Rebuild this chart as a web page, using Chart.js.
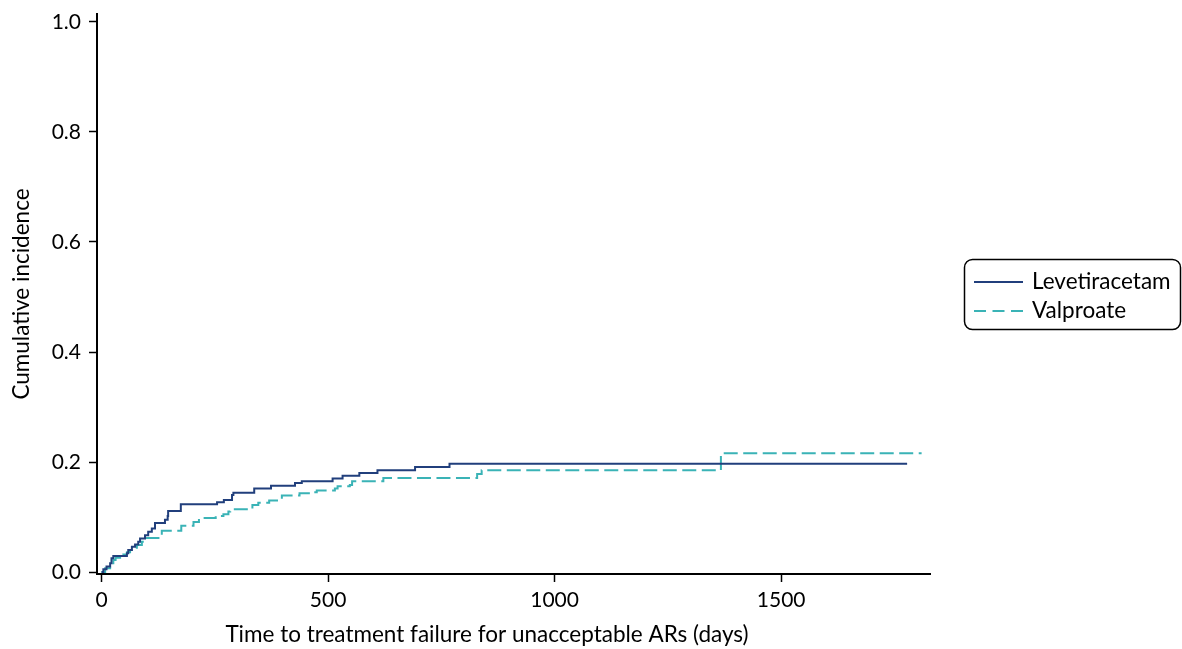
<!DOCTYPE html>
<html>
<head>
<meta charset="utf-8">
<script src="https://cdn.jsdelivr.net/npm/chart.js@4.4.1/dist/chart.umd.min.js"></script>
<style>
  html, body { margin: 0; padding: 0; background: #ffffff; }
  #wrap { width: 1182px; height: 649px; }
</style>
</head>
<body>
<div id="wrap"><canvas id="c" width="1182" height="649"></canvas></div>
<script>
// ---- data (days, cumulative incidence) ----
const seriesNames = ['Levetiracetam', 'Valproate'];
const levDays = [0, 4, 11, 19, 22, 26, 56, 59, 67, 74, 81, 85, 96, 103, 111, 118, 140, 146, 147, 175, 255, 270, 288, 291, 337, 374, 427, 442, 510, 532, 569, 609, 692, 768, 1778];
const levInc  = [0, 0.005, 0.010, 0.016, 0.025, 0.029, 0.034, 0.040, 0.046, 0.050, 0.055, 0.061, 0.067, 0.073, 0.079, 0.089, 0.095, 0.102, 0.111, 0.123, 0.127, 0.131, 0.140, 0.144, 0.152, 0.157, 0.162, 0.165, 0.170, 0.175, 0.180, 0.185, 0.191, 0.197, 0.197];
const valDays = [0, 8, 19, 26, 31, 41, 48, 56, 63, 70, 78, 89, 96, 133, 176, 203, 215, 252, 269, 280, 284, 333, 346, 370, 398, 437, 462, 475, 515, 521, 548, 553, 622, 829, 839, 1367, 1810];
const valInc  = [0, 0.007, 0.013, 0.022, 0.026, 0.028, 0.032, 0.036, 0.040, 0.044, 0.049, 0.055, 0.062, 0.075, 0.084, 0.091, 0.098, 0.102, 0.105, 0.110, 0.114, 0.122, 0.126, 0.130, 0.139, 0.143, 0.145, 0.148, 0.152, 0.156, 0.158, 0.165, 0.171, 0.178, 0.185, 0.216, 0.216];
const xTicks = [0, 500, 1000, 1500];
const yTicks = [0, 0.2, 0.4, 0.6, 0.8, 1.0];
const xTitle = 'Time to treatment failure for unacceptable ARs (days)';
const yTitle = 'Cumulative incidence';

const LEV_COLOR = '#213f7c';
const VAL_COLOR = '#3ab3b6';
const FONT = 'Lato, "Open Sans", sans-serif';

function toPoints(xs, ys) { return xs.map((x, i) => ({ x: x, y: ys[i] })); }

const legendPlugin = {
  id: 'boxLegend',
  afterDraw(chart) {
    const ctx = chart.ctx;
    ctx.save();
    const bx = 964.5, by = 259.5, bw = 216, bh = 70, r = 8;
    ctx.beginPath();
    ctx.moveTo(bx + r, by);
    ctx.lineTo(bx + bw - r, by);
    ctx.arcTo(bx + bw, by, bx + bw, by + r, r);
    ctx.lineTo(bx + bw, by + bh - r);
    ctx.arcTo(bx + bw, by + bh, bx + bw - r, by + bh, r);
    ctx.lineTo(bx + r, by + bh);
    ctx.arcTo(bx, by + bh, bx, by + bh - r, r);
    ctx.lineTo(bx, by + r);
    ctx.arcTo(bx, by, bx + r, by, r);
    ctx.closePath();
    ctx.lineWidth = 1.5;
    ctx.strokeStyle = '#000';
    ctx.stroke();
    const rows = [282, 311];
    chart.data.datasets.forEach((ds, i) => {
      const y = rows[i];
      ctx.beginPath();
      ctx.setLineDash(i === 1 ? [12, 6.5] : []);
      ctx.lineWidth = 2;
      ctx.strokeStyle = ds.borderColor;
      ctx.moveTo(974, y);
      ctx.lineTo(1023, y);
      ctx.stroke();
      ctx.setLineDash([]);
      ctx.fillStyle = '#000';
      ctx.font = '22.5px ' + FONT;
      ctx.textAlign = 'left';
      ctx.textBaseline = 'middle';
      ctx.fillText(ds.label, 1032, y);
    });
    ctx.font = '22.5px ' + FONT;
    ctx.textAlign = 'center';
    ctx.textBaseline = 'middle';
    ctx.fillStyle = '#000';
    ctx.fillText(xTitle, 487, 635);
    ctx.restore();
  }
};

new Chart(document.getElementById('c'), {
  type: 'line',
  data: {
    datasets: [
      {
        label: seriesNames[0],
        data: toPoints(levDays, levInc),
        borderColor: LEV_COLOR,
        borderWidth: 2,
        stepped: 'before',
        pointRadius: 0,
        fill: false
      },
      {
        label: seriesNames[1],
        data: toPoints(valDays, valInc),
        borderColor: VAL_COLOR,
        borderWidth: 2,
        borderDash: [14, 5.5],
        stepped: 'before',
        pointRadius: 0,
        fill: false
      }
    ]
  },
  options: {
    responsive: false,
    devicePixelRatio: 1,
    animation: false,
    layout: { padding: { left: 0, right: 252, top: 14, bottom: 0 } },
    plugins: { legend: { display: false }, tooltip: { enabled: false } },
    scales: {
      x: {
        type: 'linear',
        min: -10,
        max: 1828.5,
        afterFit(s) { s.height = 75; s.paddingLeft = 0; s.paddingRight = 0; },
        afterBuildTicks(s) { s.ticks = xTicks.map(v => ({ value: v })); },
        grid: { display: true, drawOnChartArea: false, drawTicks: true, tickLength: 8, tickWidth: 1.5, tickColor: '#000' },
        border: { display: true, color: '#000', width: 2 },
        ticks: { color: '#000', font: { family: FONT, size: 21 }, padding: 6, maxRotation: 0, callback: v => String(v) },
        title: { display: false, text: xTitle }
      },
      y: {
        type: 'linear',
        min: -0.0036,
        max: 1.0145,
        afterFit(s) { s.width = 97; s.paddingTop = 0; s.paddingBottom = 0; },
        afterBuildTicks(s) { s.ticks = yTicks.map(v => ({ value: v })); },
        grid: { display: true, drawOnChartArea: false, drawTicks: true, tickLength: 8, tickWidth: 1.5, tickColor: '#000' },
        border: { display: true, color: '#000', width: 2 },
        ticks: { color: '#000', font: { family: FONT, size: 21 }, padding: 8, callback: v => v.toFixed(1) },
        title: { display: true, text: yTitle, color: '#000', font: { family: FONT, size: 22.5 }, padding: { top: 8, bottom: 0 } }
      }
    }
  },
  plugins: [legendPlugin]
});
</script>
</body>
</html>
